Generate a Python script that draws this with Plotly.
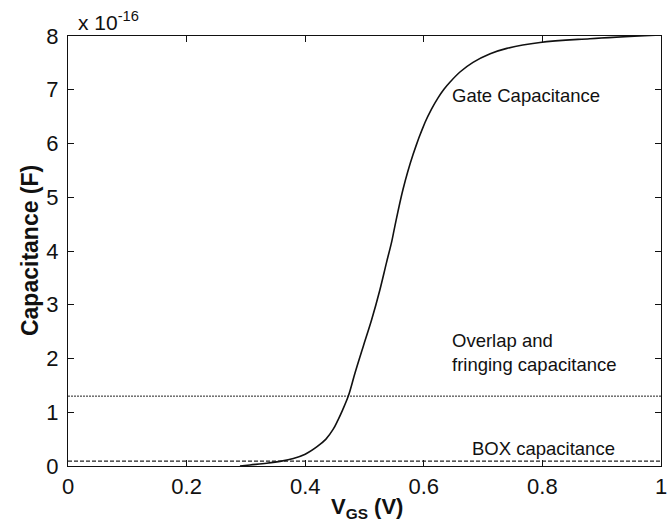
import plotly.graph_objects as go

# Gate capacitance curve (units of 1e-16 F)
vgs = [0.29, 0.307, 0.335, 0.36, 0.38, 0.40, 0.42, 0.435, 0.447, 0.455, 0.463,
       0.473, 0.484, 0.498, 0.512, 0.526, 0.537, 0.546, 0.551, 0.565, 0.582,
       0.602, 0.613, 0.624, 0.634, 0.644, 0.661, 0.683, 0.712, 0.740, 0.796,
       0.880, 1.0]
c_gate = [0.0, 0.02, 0.05, 0.09, 0.14, 0.22, 0.36, 0.50, 0.68, 0.85, 1.04,
          1.31, 1.73, 2.23, 2.72, 3.28, 3.78, 4.18, 4.45, 5.15, 5.80,
          6.39, 6.64, 6.85, 7.01, 7.14, 7.33, 7.51, 7.67, 7.77, 7.88,
          7.95, 8.02]

overlap_x = [0.0, 1.0]
overlap_c = [1.3, 1.3]
box_x = [0.0, 1.0]
box_c = [0.09, 0.09]

x_ticks = [0, 0.2, 0.4, 0.6, 0.8, 1]
x_tick_text = ["0", "0.2", "0.4", "0.6", "0.8", "1"]
y_ticks = [0, 1, 2, 3, 4, 5, 6, 7, 8]

FONT = "Liberation Sans, Arial, sans-serif"

fig = go.Figure()
fig.add_trace(go.Scatter(x=box_x, y=box_c, mode="lines",
                         line=dict(color="#222", width=1.2, dash="4px,2px"),
                         showlegend=False, hoverinfo="skip"))
fig.add_trace(go.Scatter(x=overlap_x, y=overlap_c, mode="lines",
                         line=dict(color="#222", width=1, dash="2px,1px"),
                         showlegend=False, hoverinfo="skip"))
fig.add_trace(go.Scatter(x=vgs, y=c_gate, mode="lines",
                         line=dict(color="#111", width=1.6, shape="spline", smoothing=1.0),
                         showlegend=False, hoverinfo="skip"))

axis_common = dict(showline=True, linecolor="#111", linewidth=1.2, mirror="ticks",
                   ticks="inside", ticklen=6, tickcolor="#111", tickwidth=1,
                   showgrid=False, zeroline=False, ticklabeloverflow="allow",
                   automargin=False,
                   tickfont=dict(family=FONT, size=22, color="#111"))

fig.update_layout(
    width=667, height=527,
    margin=dict(l=68, r=6, t=36, b=61, autoexpand=False),
    paper_bgcolor="white", plot_bgcolor="white",
    font=dict(family=FONT, color="#111"),
    xaxis=dict(range=[0, 1], tickvals=x_ticks, ticktext=x_tick_text, **axis_common),
    yaxis=dict(range=[0, 8], tickvals=y_ticks, ticklabelstandoff=4, **axis_common),
    annotations=[
        dict(text="x 10<sup>-16</sup>", xref="paper", yref="paper", x=0.013, y=1.0,
             xanchor="left", yanchor="bottom", showarrow=False,
             font=dict(family=FONT, size=21, color="#111")),
        dict(text="<b>Capacitance (F)</b>", xref="paper", yref="paper", x=-0.064, y=0.5,
             textangle=-90, xanchor="center", yanchor="middle", showarrow=False,
             font=dict(family=FONT, size=23, color="#111")),
        dict(text="<b>V<sub>GS</sub> (V)</b>", xref="paper", yref="paper", x=0.505, y=-0.06,
             xanchor="center", yanchor="top", showarrow=False,
             font=dict(family=FONT, size=22, color="#111")),
        dict(text="Gate Capacitance", xref="x", yref="y", x=0.645, y=6.9,
             xanchor="left", yanchor="middle", showarrow=False,
             font=dict(family=FONT, size=18.5, color="#111")),
        dict(text="Overlap and<br>fringing capacitance", xref="x", yref="y", x=0.645, y=2.12,
             xanchor="left", yanchor="middle", align="left", showarrow=False,
             font=dict(family=FONT, size=18.5, color="#111")),
        dict(text="BOX capacitance", xref="x", yref="y", x=0.678, y=0.33,
             xanchor="left", yanchor="middle", showarrow=False,
             font=dict(family=FONT, size=18.5, color="#111")),
    ],
)

fig.write_html("out.html")
